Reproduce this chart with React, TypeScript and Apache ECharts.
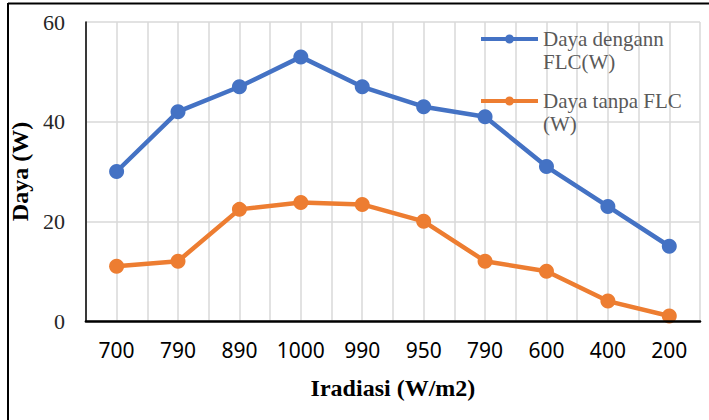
import React, { useEffect, useRef } from "react";
import * as echarts from "echarts";

const categories = ["700", "790", "890", "1000", "990", "950", "790", "600", "400", "200"];
const withFLC = [30, 42, 47, 53, 47, 43, 41, 31, 23, 15];
const withoutFLC = [11, 12, 22.4, 23.8, 23.4, 20, 12, 10, 4, 1];
const seriesNames = ["Daya dengann FLC(W)", "Daya tanpa FLC (W)"];
const legendLines: Record<string, string> = {
  "Daya dengann FLC(W)": "\nDaya dengann\nFLC(W)",
  "Daya tanpa FLC (W)": "\nDaya tanpa FLC\n(W)",
};
const halfBands = ["", "", "", "", "", "", "", "", "", "", "", "", "", "", "", "", "", "", "", ""];

const legendIcon =
  "path://M0,2.5 L57,2.5 L57,6.5 L0,6.5 Z M24,4.5 A4.5,4.5 0 1 1 33,4.5 A4.5,4.5 0 1 1 24,4.5 Z";

export default function App() {
  const ref = useRef<HTMLDivElement>(null);
  useEffect(() => {
    if (!ref.current) return;
    const chart = echarts.init(ref.current, undefined, { renderer: "svg" });
    const serif = "'Liberation Serif', 'Times New Roman', serif";
    const legendCommon = {
      orient: "vertical",
      left: 481,
      padding: 0,
      itemWidth: 57,
      itemHeight: 9,
      itemGap: 0,
      icon: legendIcon,
      formatter: (n: string) => legendLines[n] || n,
      textStyle: { fontFamily: serif, fontSize: 21, lineHeight: 23, color: "#595959" },
    };
    chart.setOption({
      animation: false,
      backgroundColor: "#ffffff",
      grid: { left: 84, right: 9, top: 22, bottom: 99 },
      legend: [
        { ...legendCommon, top: 4.5, data: [seriesNames[0]] },
        { ...legendCommon, top: 66.5, data: [seriesNames[1]] },
      ],
      xAxis: [
        {
          type: "category",
          data: categories,
          boundaryGap: true,
          name: "Iradiasi (W/m2)",
          nameLocation: "middle",
          nameGap: 55,
          nameTextStyle: { fontFamily: serif, fontSize: 24, fontWeight: "bold", color: "#000" },
          axisLine: { show: true, lineStyle: { color: "#000", width: 2.5 } },
          axisTick: { show: false },
          axisLabel: { interval: 0, margin: 18, fontFamily: "'Noto Sans', sans-serif", fontSize: 21, color: "#000" },
          splitLine: { show: false },
          z: 5,
        },
        {
          type: "category",
          data: halfBands,
          boundaryGap: true,
          position: "bottom",
          axisLine: { show: false },
          axisTick: { show: false },
          axisLabel: { show: false },
          splitLine: { show: true, interval: 0, lineStyle: { color: "#d9d9d9", width: 1.5 } },
        },
      ],
      yAxis: {
        type: "value",
        min: 0,
        max: 60,
        interval: 20,
        name: "Daya (W)",
        nameLocation: "middle",
        nameGap: 44,
        nameTextStyle: { fontFamily: serif, fontSize: 24, fontWeight: "bold", color: "#000" },
        axisLine: { show: true, lineStyle: { color: "#000", width: 1.5 } },
        axisTick: { show: false },
        axisLabel: { margin: 21, fontFamily: serif, fontSize: 22, color: "#262626" },
        splitLine: { show: true, lineStyle: { color: "#d9d9d9", width: 1.5 } },
      },
      series: [
        {
          name: seriesNames[0],
          type: "line",
          data: withFLC,
          xAxisIndex: 0,
          symbol: "circle",
          symbolSize: 15,
          lineStyle: { color: "#4472C4", width: 4.5 },
          itemStyle: { color: "#4472C4" },
          z: 3,
        },
        {
          name: seriesNames[1],
          type: "line",
          data: withoutFLC,
          xAxisIndex: 0,
          symbol: "circle",
          symbolSize: 15,
          lineStyle: { color: "#ED7D31", width: 4.5 },
          itemStyle: { color: "#ED7D31" },
          z: 3,
        },
      ],
      graphic: [
        { type: "line", shape: { x1: 8, y1: 3.5, x2: 709, y2: 3.5 }, style: { stroke: "#000", lineWidth: 2 } },
        { type: "line", shape: { x1: 8, y1: 3, x2: 8, y2: 420 }, style: { stroke: "#000", lineWidth: 2 } },
      ],
    });
    return () => chart.dispose();
  }, []);
  return (
    <div
      ref={ref}
      style={{ position: "fixed", left: 0, top: 0, width: 709, height: 420, background: "#fff" }}
    />
  );
}
